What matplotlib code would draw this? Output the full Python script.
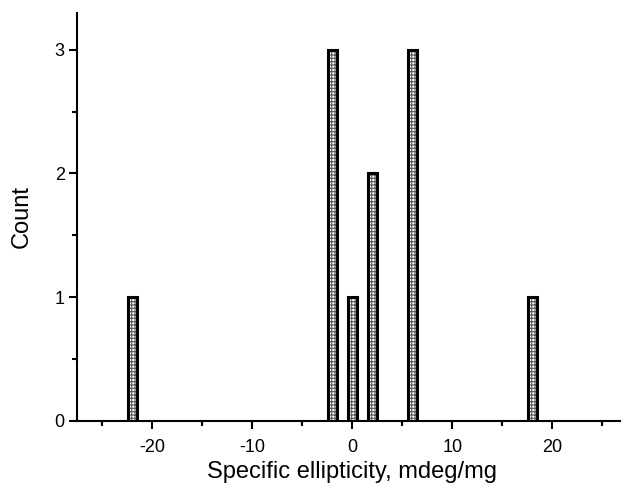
import matplotlib
matplotlib.use("Agg")
import matplotlib.pyplot as plt
from matplotlib.ticker import MultipleLocator

plt.rcParams['font.family'] = ['Liberation Sans', 'DejaVu Sans']
plt.rcParams['hatch.linewidth'] = 0.8
plt.rcParams['axes.unicode_minus'] = False

# Data
centers = [-22, -2, 0, 2, 6, 18]
counts = [1, 3, 1, 2, 3, 1]
xlabel = "Specific ellipticity, mdeg/mg"
ylabel = "Count"
bar_width = 0.9

W, H = 621, 486
fig = plt.figure(figsize=(W / 100, H / 100), dpi=100)
ax = fig.add_axes([77.3 / W, 1 - 420.7 / H, 550 / W, 408 / H])

# hatched fill
ax.bar(centers, counts, width=bar_width, color='white', edgecolor='#5a5a5a',
       hatch='+++++', linewidth=0, zorder=2)
# outline
ax.bar(centers, counts, width=bar_width, fill=False, edgecolor='black',
       linewidth=2.2, zorder=3)

ax.set_xlim(-27.5, 27.5)
ax.set_ylim(0, 3.3)
ax.xaxis.set_major_locator(MultipleLocator(10))
ax.xaxis.set_minor_locator(MultipleLocator(5))
ax.yaxis.set_major_locator(MultipleLocator(1))
ax.yaxis.set_minor_locator(MultipleLocator(0.5))

for s in ['top', 'right']:
    ax.spines[s].set_visible(False)
for s in ['left', 'bottom']:
    ax.spines[s].set_linewidth(1.5)
    ax.spines[s].set_zorder(4)

ax.tick_params(which='major', direction='out', length=6, width=1.5, labelsize=13)
ax.tick_params(axis='x', which='major', pad=7)
ax.tick_params(axis='y', which='major', pad=3)
ax.tick_params(which='minor', direction='out', length=3.3, width=1.5)

ax.set_xlabel(xlabel, fontsize=17, labelpad=4)
ax.set_ylabel(ylabel, fontsize=17, labelpad=16)

fig.savefig("out.png", dpi=100)
